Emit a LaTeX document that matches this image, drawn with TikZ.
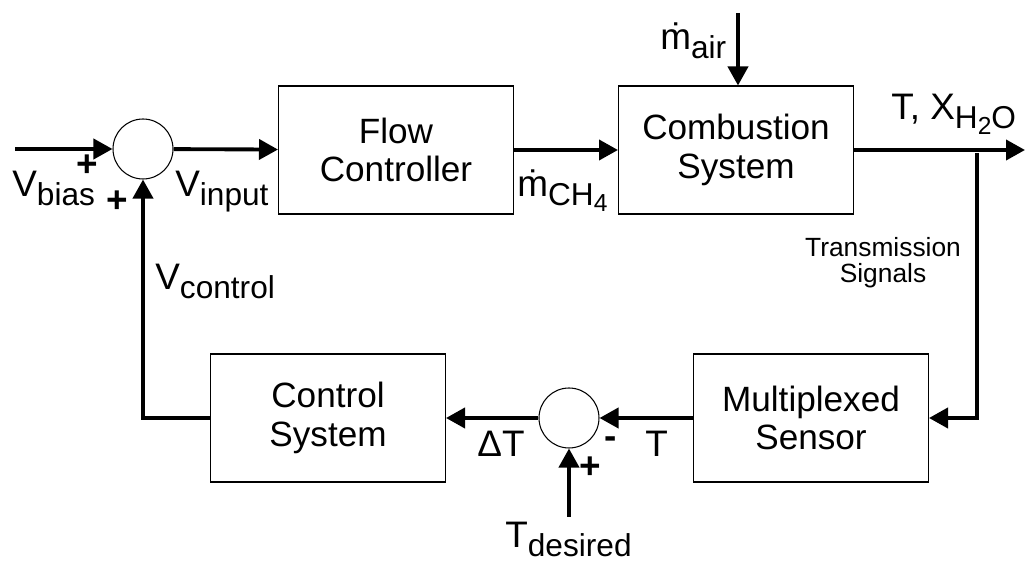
\documentclass[tikz,border=0pt]{standalone}
\usepackage{fontspec}
\setmainfont{Liberation Sans}
\usetikzlibrary{arrows.meta}
\newcommand{\sub}[1]{\raisebox{-5pt}{\fontsize{18}{18}\selectfont #1}}
\newcommand{\subsub}[1]{\raisebox{-3pt}{\fontsize{14}{14}\selectfont #1}}

\begin{document}
\begin{tikzpicture}[x=0.02cm,y=-0.02cm,
    blk/.style={draw,line width=0.6pt,minimum width=4.7cm,minimum height=2.56cm,
      align=center,font=\fontsize{20}{22}\selectfont},
    sum/.style={draw,circle,line width=0.6pt,minimum size=1.2cm,inner sep=0pt},
    sig/.style={line width=2.2pt,-{Triangle[length=0.38cm,width=0.4cm]}},
    lbl/.style={inner sep=0pt,anchor=base west,font=\fontsize{21}{21}\selectfont},
    sgn/.style={inner sep=0pt,font=\fontsize{21}{21}\selectfont\bfseries}]
\useasboundingbox (0,0) rectangle (1029,570);
\node[sum] (S1) at (143,149) {};
\node[blk] (FC) at (396,150) {Flow\\Controller};
\node[blk] (CS) at (736,150) {Combustion\\System};
\node[blk] (MS) at (811,418) {Multiplexed\\Sensor};
\node[sum] (S2) at (569,418) {};
\node[blk] (CT) at (328,418) {Control\\System};
\coordinate (IN) at (15,149);
\coordinate (MA) at (738,13);
\coordinate (OUT) at (1025,150);
\coordinate (TAP) at (977,153);
\coordinate (TD) at (569,517);
\draw[sig] (IN) -- (S1);
\draw[sig] (S1) -- (FC);
\draw[sig] (FC) -- (CS);
\draw[sig] (MA) -- (MA |- CS.north);
\draw[sig] (CS) -- (OUT);
\draw[sig] (TAP) |- (MS.east);
\draw[sig] (MS) -- (S2);
\draw[sig] (S2) -- (CT);
\draw[sig] (TD) -- (S2.south);
\draw[sig] (CT.west) -| (S1.south);
\node[lbl] (Vb) at (12,197) {V\sub{bias}};
\node[sgn] (P1) at (87,166) {+};
\node[sgn] (P2) at (117,202) {+};
\node[lbl] (Vi) at (175,197) {V\sub{input}};
\node[lbl] (Mc) at (517,197) {\.{m}\sub{CH\subsub{4}}};
\node[lbl] (Ma) at (660,50) {\.{m}\sub{air}};
\node[lbl] (TX) at (891,120) {T, X\sub{H\subsub{2}O}};
\node[align=center,font=\fontsize{15}{15}\selectfont] (TS) at (883,263) {Transmission\\Signals};
\node[lbl] (Vc) at (155,290) {V\sub{control}};
\node[lbl] (DT) at (477,457) {ΔT};
\node[sgn] (M2) at (611,443) {-};
\node[lbl] (T2) at (645,457) {T};
\node[sgn] (P3) at (590,468) {+};
\node[lbl] (Td) at (505,548) {T\sub{desired}};
\end{tikzpicture}
\end{document}
